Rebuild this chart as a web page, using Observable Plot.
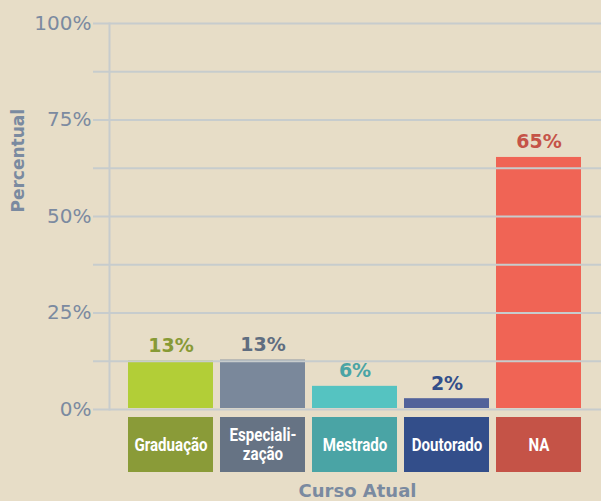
<!DOCTYPE html>
<html>
<head>
<meta charset="utf-8">
<script src="https://cdn.jsdelivr.net/npm/d3@7"></script>
<script src="https://cdn.jsdelivr.net/npm/@observablehq/plot@0.6"></script>
<style>
  html, body { margin: 0; padding: 0; background: #e7ddc7; }
  #chart svg { display: block; }
</style>
</head>
<body>
<div id="chart"></div>
<script>
const categories = ["Graduação", "Especialização", "Mestrado", "Doutorado", "NA"];
const boxLabels = ["Graduação", "Especiali-\nzação", "Mestrado", "Doutorado", "NA"];
const values = [12.6, 12.8, 6.0, 2.8, 65.3];
const valueLabels = ["13%", "13%", "6%", "2%", "65%"];
const barColors = ["#b2ce37", "#7a889b", "#55c3c1", "#52629a", "#f06455"];
const boxColors = ["#8a9b38", "#667384", "#4aa4a5", "#334e8a", "#c55347"];
const labelColors = ["#879a35", "#5f6d80", "#4aa4a5", "#334e8a", "#c55347"];
const yTicks = [0, 25, 50, 75, 100];
const gridTicks = [0, 12.5, 25, 37.5, 50, 62.5, 75, 87.5, 100];

const data = categories.map((c, i) => ({
  cat: c, value: values[i], box: boxLabels[i], label: valueLabels[i],
  bar: barColors[i], boxColor: boxColors[i], labelColor: labelColors[i]
}));

const chart = Plot.plot({
  width: 601,
  height: 501,
  marginLeft: 128,
  marginRight: 19,
  marginTop: 23,
  marginBottom: 92,
  style: { background: "#e7ddc7", fontFamily: "DejaVu Sans" },
  x: { domain: categories, paddingInner: 0.076, paddingOuter: 0, axis: null },
  y: { domain: [0, 100], axis: null },
  marks: [
    Plot.barY(data, { x: "cat", y: "value", fill: "bar", insetTop: 0, insetBottom: 1 }),
    Plot.ruleY(gridTicks, { stroke: "#c7cccd", strokeWidth: 2, insetLeft: -35, insetRight: -19 }),
    Plot.frame({ anchor: "left", insetLeft: -19, stroke: "#c7cccd", strokeWidth: 2 }),
    Plot.axisY(yTicks, {
      tickSize: 0, tickPadding: 37, tickFormat: d => d + "%",
      fontSize: 20, fill: "#7b8aa0", label: null
    }),
    Plot.text(data, {
      x: "cat", y: "value", text: "label", fill: "labelColor",
      dy: -9, lineAnchor: "bottom", fontSize: 19, fontWeight: "bold"
    }),
    Plot.barY(data, { x: "cat", y1: 0, y2: 0, fill: "boxColor", insetTop: 8, insetBottom: -63 }),
    Plot.text(data, {
      x: "cat", y: 0, text: "box", fill: "white", dy: 35, lineAnchor: "middle",
      fontSize: 18, fontWeight: "bold", lineHeight: 1.05,
      fontFamily: "Roboto", className: "boxlabel"
    }),
    Plot.text(["Percentual"], {
      frameAnchor: "left", rotate: -90, dx: -110, dy: -4, fill: "#7a8aa0",
      fontSize: 17, fontWeight: "bold"
    }),
    Plot.text(["Curso Atual"], {
      frameAnchor: "bottom", dx: 2, dy: 82, fill: "#7a8aa0", lineAnchor: "middle",
      fontSize: 18, fontWeight: "bold"
    })
  ]
});
// narrow the box labels horizontally to mimic a condensed face
d3.select(chart).selectAll("g.boxlabel text").each(function () {
  const t = this.getAttribute("transform") || "";
  this.setAttribute("transform", t + " scale(0.84,1)");
});
document.getElementById("chart").appendChild(chart);
</script>
</body>
</html>
